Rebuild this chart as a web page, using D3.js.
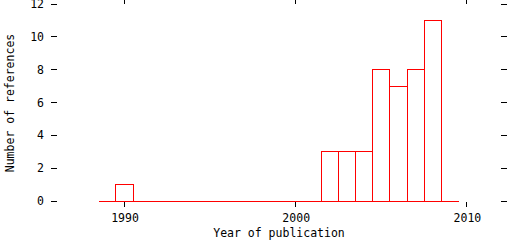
<!DOCTYPE html>
<html lang="en">
<head>
  <meta charset="UTF-8">
  <title>Number of references per year</title>
  <script src="https://d3js.org/d3.v7.min.js"></script>
  <style>
    body { margin: 0; background: #fff; }
    svg { display: block; }
    text { font-family: "DejaVu Sans Mono", monospace; font-size: 11.5px; fill: #000; }
  </style>
</head>
<body>
<div id="chart"></div>
<script>
  // data
  const years = [1989, 1990, 1991, 1992, 1993, 1994, 1995, 1996, 1997, 1998, 1999,
                 2000, 2001, 2002, 2003, 2004, 2005, 2006, 2007, 2008, 2009];
  const counts = [0, 1, 0, 0, 0, 0, 0, 0, 0, 0, 0,
                  0, 0, 3, 3, 3, 8, 7, 8, 11, 0];
  const xTicks = [1990, 2000, 2010];
  const yTicks = [0, 2, 4, 6, 8, 10, 12];

  const width = 512, height = 240;
  const x = d3.scaleLinear().domain([1986, 2012]).range([56, 501.2]);
  const y = d3.scaleLinear().domain([0, 12]).range([201, 4]);
  const px = v => Math.floor(v) + 0.5;

  const svg = d3.select("#chart").append("svg")
    .attr("width", width).attr("height", height)
    .attr("shape-rendering", "crispEdges");

  // ticks (outward, on all four sides, no frame)
  const plotL = 57, plotR = 501, plotT = 4, plotB = 201;
  const ticks = svg.append("g").attr("stroke", "#000");
  yTicks.forEach(t => {
    ticks.append("line").attr("x1", plotL - 6).attr("x2", plotL).attr("y1", px(y(t))).attr("y2", px(y(t)));
    ticks.append("line").attr("x1", plotR).attr("x2", plotR + 6).attr("y1", px(y(t))).attr("y2", px(y(t)));
  });
  xTicks.forEach(t => {
    ticks.append("line").attr("x1", px(x(t))).attr("x2", px(x(t))).attr("y1", plotB + 1).attr("y2", plotB + 6);
    ticks.append("line").attr("x1", px(x(t))).attr("x2", px(x(t))).attr("y1", 0).attr("y2", plotT);
  });

  // tick labels
  svg.append("g").selectAll("text").data(yTicks).join("text")
    .attr("x", 44).attr("y", d => y(d)).attr("dy", "0.35em")
    .attr("text-anchor", "end").text(d => d);
  svg.append("g").selectAll("text").data(xTicks).join("text")
    .attr("x", d => x(d) + 0.5).attr("y", 222)
    .attr("text-anchor", "middle").text(d => d);

  // axis titles
  svg.append("text").attr("x", 279).attr("y", 237)
    .attr("text-anchor", "middle").text("Year of publication");
  svg.append("text").attr("transform", "translate(14,103) rotate(-90)")
    .attr("text-anchor", "middle").text("Number of references");

  // histogram boxes, drawn as outlines so empty bins still show the baseline
  const data = years.map((yr, i) => ({ year: yr, n: counts[i] }));
  svg.append("g").selectAll("path").data(data).join("path")
    .attr("d", d => {
      const x0 = px(x(d.year - 0.5)), x1 = px(x(d.year + 0.5));
      const y0 = px(y(0)), y1 = px(y(d.n));
      const p = d3.path();
      p.moveTo(x0, y0);
      p.lineTo(x0, y1);
      p.lineTo(x1, y1);
      p.lineTo(x1, y0);
      p.closePath();
      return p.toString();
    })
    .attr("fill", "none")
    .attr("stroke", "#ff0000")
    .attr("stroke-width", 1);
</script>
</body>
</html>
